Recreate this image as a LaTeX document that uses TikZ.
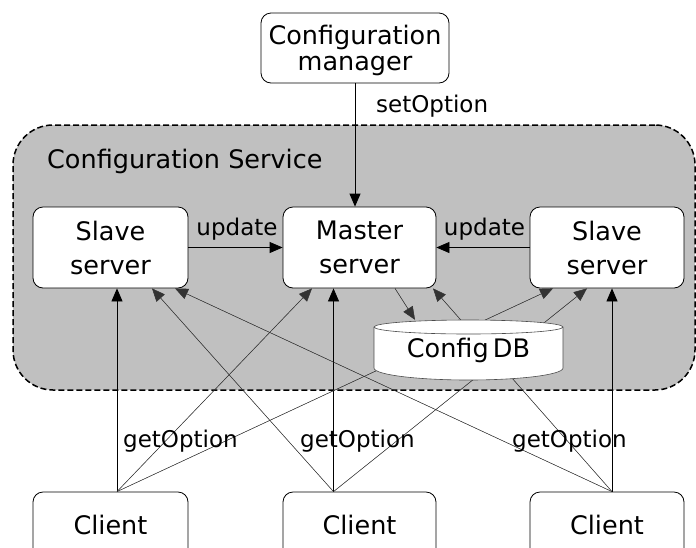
\documentclass[tikz,border=0pt]{standalone}
\usepackage{fontspec}
\setmainfont{DejaVu Sans}
\usetikzlibrary{arrows.meta,calc}
\definecolor{svc}{RGB}{192,192,192}
\begin{document}
\begin{tikzpicture}[x=1pt,y=-1pt,
  box/.style={draw, rounded corners=10pt, fill=white, line width=0.8pt, align=center,
    font=\fontsize{25.5}{34}\selectfont, inner sep=0pt},
  lbl/.style={font=\fontsize{23}{28}\selectfont, inner sep=0pt},
  arr/.style={-{Triangle[length=13pt,width=11pt]}, line width=0.8pt},
  diag/.style={-{Triangle[length=13pt,width=11pt]}, line width=0.5pt, draw=black!80, fill=black},
]
\clip (0,0) rectangle (696,547);
\fill[white] (0,0) rectangle (696,547);

% service container
\node[draw, dash pattern=on 6pt off 3pt, line width=1.5pt, rounded corners=40pt, fill=svc,
  minimum width=682pt, minimum height=265pt, inner sep=0pt] (svc) at (354,257.5) {};
\node[font=\fontsize{25.5}{30}\selectfont, anchor=base west, inner sep=0pt] (title) at (47,168) {Configuration Service};

% boxes
\node[box, minimum width=188pt, minimum height=70pt, font=\fontsize{25.5}{26}\selectfont, text depth=0pt] (cm) at (355,48) {Configuration\\manager};
\node[box, minimum width=155pt, minimum height=81pt] (ls) at (110.5,247.5) {Slave\\server};
\node[box, minimum width=153pt, minimum height=81pt] (ms) at (359.5,247.5) {Master\\server};
\node[box, minimum width=154pt, minimum height=81pt] (rs) at (607,247.5) {Slave\\server};
\node[box, minimum width=155pt, minimum height=66pt] (lc) at (110.5,525) {Client};
\node[box, minimum width=153pt, minimum height=66pt] (mc) at (359.5,525) {Client};
\node[box, minimum width=154pt, minimum height=66pt] (rc) at (607,525) {Client};

% client connection points
\coordinate (lcp) at ([xshift=6.5pt]lc.north);
\coordinate (mcp) at ([xshift=-26pt]mc.north);
\coordinate (rcp) at ([xshift=5pt]rc.north);

% client arrows
\draw[arr] (lcp) -- (lcp |- ls.south);
\draw[arr] (mcp) -- (mcp |- ms.south);
\draw[arr] (rcp) -- (rcp |- rs.south);
\draw[diag] (mcp) -- ([xshift=41.5pt]ls.south);
\draw[diag] (rcp) -- ([xshift=64.5pt]ls.south);
\draw[diag] (lcp) -- ([xshift=-47.5pt]ms.south);
\draw[diag] (rcp) -- ([xshift=73.5pt]ms.south);
\draw[diag] (lcp) -- ([xshift=-54pt]rs.south);
\draw[diag] (mcp) -- ([xshift=-20pt]rs.south);

% ConfigDB cylinder
\draw[fill=white, line width=0.6pt, draw=black!70]
  (374,327) -- (374,368) arc[start angle=180, end angle=360, x radius=94.5pt, y radius=12pt]
  -- (563,327) arc[start angle=0, end angle=180, x radius=94.5pt, y radius=7pt] -- cycle;
\draw[line width=0.6pt, draw=black!70] (374,327) arc[start angle=180, end angle=360, x radius=94.5pt, y radius=7pt];
\node[minimum width=189pt, minimum height=60pt, inner sep=0pt, font=\fontsize{25.5}{30}\selectfont] (db) at (468.5,350) {Config\,DB};
\draw[diag] ([xshift=35.5pt]ms.south) -- ([xshift=-53.5pt]db.north);

% other arrows
\draw[arr] (cm.south) -- (cm.south |- ms.north);
\draw[arr] (ls.east) -- (ms.west);
\draw[arr] (rs.west) -- (ms.east);

% labels
\node[lbl, anchor=base west] (setopt) at (376,112) {setOption};
\node[lbl, anchor=base] (upd1) at (237,235) {update};
\node[lbl, anchor=base] (upd2) at (484.5,235) {update};
\node[lbl, anchor=base west] (get1) at (123,447) {getOption};
\node[lbl, anchor=base west] (get2) at (300,447) {getOption};
\node[lbl, anchor=base west] (get3) at (512,447) {getOption};
\end{tikzpicture}
\end{document}
